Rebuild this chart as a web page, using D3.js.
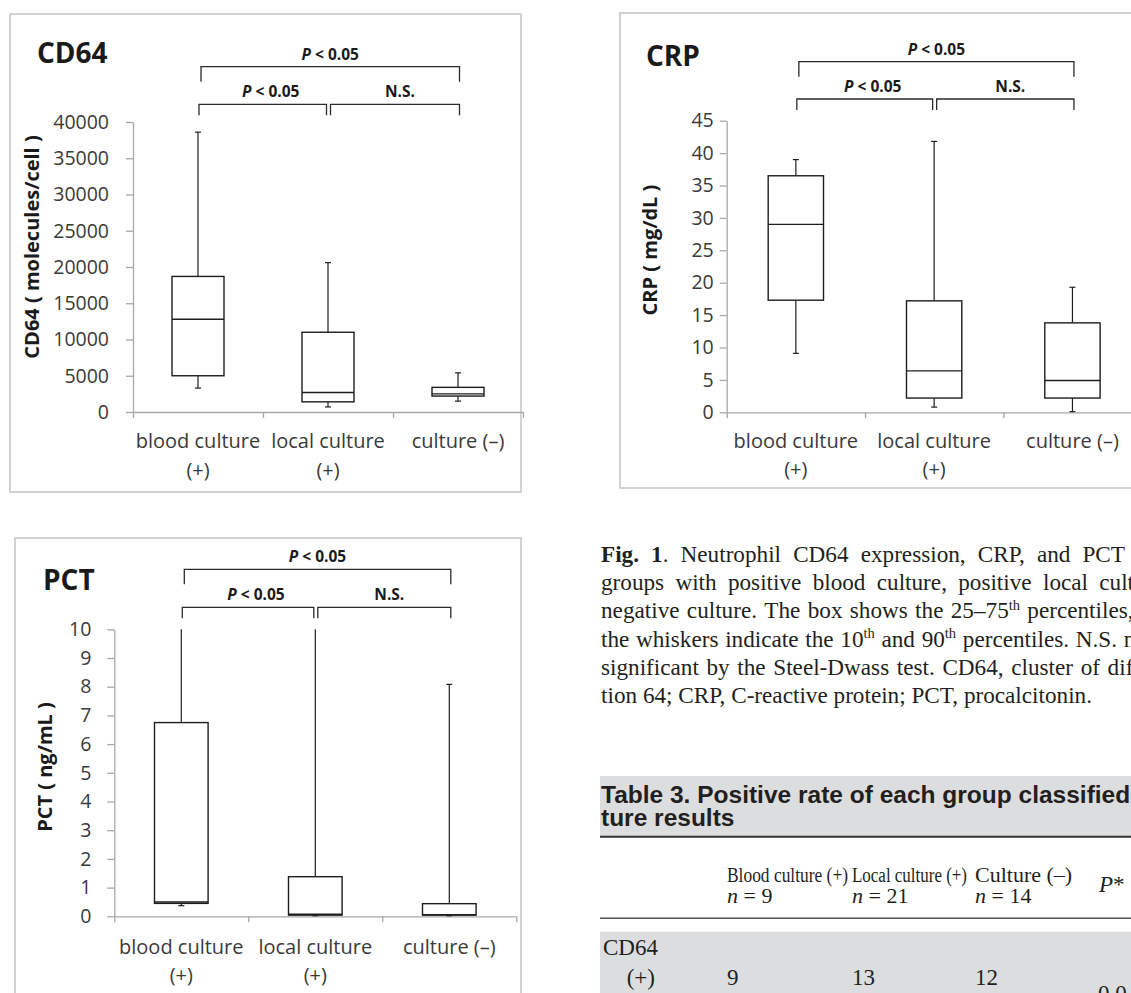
<!DOCTYPE html>
<html>
<head>
<meta charset="utf-8">
<script src="https://cdn.jsdelivr.net/npm/d3@7"></script>
<style>
  body { margin: 0; background: #fff; }
  svg { display: block; }
</style>
</head>
<body>
<svg id="page" width="1131" height="993"></svg>
<script>
// groups on the x axis
var groups = ["blood culture (+)", "local culture (+)", "culture (–)"];
var groupLines = [["blood culture", "(+)"], ["local culture", "(+)"], ["culture (–)"]];

// CD64 (molecules/cell): 10th, 25th, 50th, 75th, 90th percentiles
var cd64Ticks = [0, 5000, 10000, 15000, 20000, 25000, 30000, 35000, 40000];
var cd64P10 = [3300, 700, 1500];
var cd64Q1 = [5000, 1400, 2200];
var cd64Median = [12800, 2700, 2500];
var cd64Q3 = [18700, 11000, 3400];
var cd64P90 = [38600, 20600, 5400];

// CRP (mg/dL)
var crpTicks = [0, 5, 10, 15, 20, 25, 30, 35, 40, 45];
var crpP10 = [9.1, 0.8, 0.1];
var crpQ1 = [17.3, 2.2, 2.2];
var crpMedian = [29.0, 6.4, 4.9];
var crpQ3 = [36.5, 17.2, 13.8];
var crpP90 = [39.0, 41.8, 19.3];

// PCT (ng/mL), whiskers of the first two groups run off the top of the axis
var pctTicks = [0, 1, 2, 3, 4, 5, 6, 7, 8, 9, 10];
var pctP10 = [0.37, 0.02, 0.02];
var pctQ1 = [0.45, 0.04, 0.04];
var pctMedian = [0.5, 0.07, 0.06];
var pctQ3 = [6.75, 1.38, 0.44];
var pctP90 = [10, 10, 8.08];

// significance brackets (same in all three panels)
var compFrom = [0, 0, 1];
var compTo = [2, 1, 2];
var compLevel = [0, 1, 1];
var compLabel = ["P < 0.05", "P < 0.05", "N.S."];

// caption and table text
var captionLines = [
  "*Fig.* *1*. Neutrophil CD64 expression, CRP, and PCT in the",
  "groups with positive blood culture, positive local culture, and",
  "negative culture. The box shows the 25–75^th^ percentiles, and",
  "the whiskers indicate the 10^th^ and 90^th^ percentiles. N.S. not",
  "significant by the Steel-Dwass test. CD64, cluster of differentia-",
  "tion 64; CRP, C-reactive protein; PCT, procalcitonin."
];
var tableTitle = ["Table 3. Positive rate of each group classified by cul-", "ture results"];
var tableCols = ["Blood culture (+)", "Local culture (+)", "Culture (–)"];
var tableN = ["9", "21", "14"];
var cd64Positive = ["9", "13", "12"];
var cd64P = "0.0";

var svg = d3.select("#page");
var sans = "'Open Sans', 'Noto Sans', sans-serif";
var serif = "'Liberation Serif', 'Times New Roman', serif";

function boxPanel(cfg) {
  var g = svg.append("g");

  g.append("rect")
    .attr("x", cfg.frame[0]).attr("y", cfg.frame[1])
    .attr("width", cfg.frame[2]).attr("height", cfg.frame[3])
    .attr("fill", "none").attr("stroke", "#c4c4c4").attr("stroke-width", 1.5);

  var x = d3.scaleBand().domain(groups).range([cfg.x0, cfg.x0 + 3 * cfg.band]);
  var y = d3.scaleLinear().domain([0, cfg.max]).range([cfg.yBottom, cfg.yTop]);
  var cx = function(i) { return x(groups[i]) + x.bandwidth() / 2; };

  // y axis
  var ya = g.append("g")
    .attr("transform", "translate(" + cfg.x0 + ",0)")
    .call(d3.axisLeft(y).tickValues(cfg.ticks).tickFormat(d3.format("d"))
      .tickSize(7).tickSizeOuter(0).tickPadding(cfg.pad));
  ya.select(".domain").attr("stroke", "#a8a8a8").attr("stroke-width", 1.3);
  ya.selectAll(".tick line").attr("stroke", "#a8a8a8").attr("stroke-width", 1.3);
  ya.selectAll(".tick text")
    .attr("fill", "#3a3a3a")
    .style("font-family", sans).style("font-size", "19.5px");

  // x axis, ticks sit between the groups
  var xe = d3.scaleLinear().domain([0, 3]).range(x.range());
  var xa = g.append("g")
    .attr("transform", "translate(0," + cfg.yBottom + ")")
    .call(d3.axisBottom(xe).tickValues([0, 1, 2, 3]).tickSize(6).tickSizeOuter(0).tickFormat(""));
  xa.select(".domain").attr("stroke", "#a8a8a8").attr("stroke-width", 1.3);
  xa.selectAll(".tick line").attr("stroke", "#a8a8a8").attr("stroke-width", 1.3);

  // category labels
  groupLines.forEach(function(lines, i) {
    var t = g.append("text")
      .attr("text-anchor", "middle")
      .attr("fill", "#3a3a3a")
      .style("font-family", sans).style("font-size", "20px");
    lines.forEach(function(s, k) {
      t.append("tspan").attr("x", cx(i)).attr("y", cfg.catBase + k * cfg.catGap).text(s);
    });
  });

  // boxes
  var rows = groups.map(function(d, i) {
    return { i: i, p10: cfg.p10[i], q1: cfg.q1[i], med: cfg.med[i], q3: cfg.q3[i], p90: cfg.p90[i] };
  });
  var bw = x.bandwidth() * 0.4;
  var box = g.selectAll(".box").data(rows).enter().append("g").attr("class", "box");

  box.append("line")
    .attr("x1", function(d) { return cx(d.i); }).attr("x2", function(d) { return cx(d.i); })
    .attr("y1", function(d) { return y(d.p90); }).attr("y2", function(d) { return y(d.q3); })
    .attr("stroke", "#1e1e1e").attr("stroke-width", 1.2);
  box.append("line")
    .attr("x1", function(d) { return cx(d.i); }).attr("x2", function(d) { return cx(d.i); })
    .attr("y1", function(d) { return y(d.q1); }).attr("y2", function(d) { return y(d.p10); })
    .attr("stroke", "#1e1e1e").attr("stroke-width", 1.2);
  // caps (not when the whisker is cut by the axis top)
  box.filter(function(d) { return d.p90 < cfg.max; }).append("line")
    .attr("x1", function(d) { return cx(d.i) - 3; }).attr("x2", function(d) { return cx(d.i) + 3; })
    .attr("y1", function(d) { return y(d.p90); }).attr("y2", function(d) { return y(d.p90); })
    .attr("stroke", "#1e1e1e").attr("stroke-width", 1.2);
  box.append("line")
    .attr("x1", function(d) { return cx(d.i) - 3; }).attr("x2", function(d) { return cx(d.i) + 3; })
    .attr("y1", function(d) { return y(d.p10); }).attr("y2", function(d) { return y(d.p10); })
    .attr("stroke", "#1e1e1e").attr("stroke-width", 1.2);

  box.append("rect")
    .attr("x", function(d) { return cx(d.i) - bw / 2; })
    .attr("y", function(d) { return y(d.q3); })
    .attr("width", bw)
    .attr("height", function(d) { return y(d.q1) - y(d.q3); })
    .attr("fill", "#fff").attr("stroke", "#1e1e1e").attr("stroke-width", 1.4);
  box.append("line")
    .attr("x1", function(d) { return cx(d.i) - bw / 2; }).attr("x2", function(d) { return cx(d.i) + bw / 2; })
    .attr("y1", function(d) { return y(d.med); }).attr("y2", function(d) { return y(d.med); })
    .attr("stroke", "#1e1e1e").attr("stroke-width", 1.4);

  // brackets
  compFrom.forEach(function(f, k) {
    var t = compTo[k];
    var by = compLevel[k] === 0 ? cfg.bracketTop : cfg.bracketLow;
    var leg = compLevel[k] === 0 ? 15 : 11;
    var x1 = cx(f) + (compLevel[k] === 0 ? 3 : (f === 1 ? 2.5 : 1));
    var x2 = cx(t) + (t === 1 ? -1.5 : 1.5);
    g.append("path")
      .attr("d", "M" + x1 + "," + (by + leg) + "V" + by + "H" + x2 + "V" + (by + leg))
      .attr("fill", "none").attr("stroke", "#2a2a2a").attr("stroke-width", 1.3);
    var lab = g.append("text")
      .attr("x", (x1 + x2) / 2 + (compLevel[k] === 0 ? 0 : (compLabel[k] === "N.S." ? 5 : 8)))
      .attr("y", by - 7)
      .attr("text-anchor", "middle")
      .attr("fill", "#1a1a1a")
      .style("font-family", sans).style("font-weight", "bold").style("font-size", "15.5px");
    if (compLabel[k].charAt(0) === "P") {
      lab.append("tspan").style("font-style", "italic").text("P");
      lab.append("tspan").text(compLabel[k].slice(1));
    } else {
      lab.text(compLabel[k]);
    }
  });

  // panel title and y label
  g.append("text")
    .attr("x", cfg.title[1]).attr("y", cfg.title[2])
    .attr("fill", "#1a1a1a")
    .style("font-family", sans).style("font-weight", "bold").style("font-size", "28px")
    .text(cfg.title[0]);
  g.append("text")
    .attr("transform", "translate(" + cfg.ylab[1] + "," + cfg.ylab[2] + ") rotate(-90)")
    .attr("text-anchor", "middle")
    .attr("dy", "0.35em")
    .attr("fill", "#1a1a1a")
    .style("font-family", sans).style("font-weight", "bold").style("font-size", "20px")
    .text(cfg.ylab[0]);
}

boxPanel({
  frame: [10, 14, 511, 478],
  x0: 133, band: 130, yTop: 122, yBottom: 412, max: 40000, ticks: cd64Ticks, pad: 17,
  p10: cd64P10, q1: cd64Q1, med: cd64Median, q3: cd64Q3, p90: cd64P90,
  catBase: 448, catGap: 29,
  bracketTop: 66.7, bracketLow: 104.3,
  title: ["CD64", 37, 63],
  ylab: ["CD64 ( molecules/cell )", 32, 247]
});

boxPanel({
  frame: [620, 13, 600, 475],
  x0: 726.7, band: 138.3, yTop: 120.7, yBottom: 412.3, max: 45, ticks: crpTicks, pad: 6,
  p10: crpP10, q1: crpQ1, med: crpMedian, q3: crpQ3, p90: crpP90,
  catBase: 448, catGap: 28,
  bracketTop: 61.7, bracketLow: 99,
  title: ["CRP", 646, 66],
  ylab: ["CRP ( mg/dL )", 650, 250]
});

boxPanel({
  frame: [15, 538, 506, 500],
  x0: 114.3, band: 134, yTop: 629.3, yBottom: 916.3, max: 10, ticks: pctTicks, pad: 16,
  p10: pctP10, q1: pctQ1, med: pctMedian, q3: pctQ3, p90: pctP90,
  catBase: 954, catGap: 28,
  bracketTop: 569.3, bracketLow: 607.3,
  title: ["PCT", 43, 590],
  ylab: ["PCT ( ng/mL )", 45, 767]
});

// ---- caption (justified lines, right part cut off by the page edge) ----
// [word index, x where that word ends] used to set the word spacing
var captionAnchors = [[7, 1125], [6, 1088], [6, 1020], [8, 1117], [7, 1100], null];
var capSize = 23.2;

function parseWord(w) {
  var segs = [], bold = false, sup = false, cur = "";
  for (var c of w) {
    if (c === "*" || c === "^") {
      if (cur) segs.push({ t: cur, b: bold, s: sup });
      cur = "";
      if (c === "*") bold = !bold; else sup = !sup;
    } else cur += c;
  }
  if (cur) segs.push({ t: cur, b: bold, s: sup });
  return segs;
}

captionLines.forEach(function(line, li) {
  var base = 561.7 + li * 28.3;
  var words = line.split(" ");
  var nodes = words.map(function(w) {
    var t = svg.append("text")
      .attr("y", base)
      .attr("fill", "#231f20")
      .style("font-family", serif).style("font-size", capSize + "px");
    parseWord(w).forEach(function(s) {
      var sp = t.append("tspan").text(s.t);
      if (s.b) sp.style("font-weight", "bold");
      if (s.s) sp.style("font-size", "14.5px").attr("dy", -8.5);
    });
    return t;
  });
  var widths = nodes.map(function(t) { return t.node().getComputedTextLength(); });
  var space = capSize * 0.25, extra = 0;
  var a = captionAnchors[li];
  if (a) {
    var end = 601;
    for (var k = 0; k <= a[0]; k++) end += widths[k] + (k < a[0] ? space : 0);
    extra = (a[1] - end) / a[0];
  }
  var xx = 601;
  nodes.forEach(function(t, k) {
    t.attr("x", xx);
    xx += widths[k] + space + extra;
  });
});

// ---- table 3 (partly visible) ----
svg.append("rect").attr("x", 600).attr("y", 776).attr("width", 540).attr("height", 61).attr("fill", "#dcdddf");
svg.append("line").attr("x1", 600).attr("x2", 1131).attr("y1", 836.7).attr("y2", 836.7)
  .attr("stroke", "#333").attr("stroke-width", 2);
tableTitle.forEach(function(s, k) {
  svg.append("text").attr("x", 601).attr("y", 803 + k * 22.5)
    .attr("fill", "#231f20")
    .style("font-family", "'Liberation Sans', Arial, sans-serif").style("font-weight", "bold").style("font-size", "24.5px")
    .text(s);
});

var colX = [727, 852, 975];
var colCondensed = [121, 115, null];
tableCols.forEach(function(s, i) {
  var t = svg.append("text").attr("x", colX[i]).attr("y", 881.7)
    .attr("fill", "#231f20")
    .style("font-family", serif).style("font-size", i < 2 ? "20px" : "22px")
    .text(s);
  if (colCondensed[i]) t.attr("textLength", colCondensed[i]).attr("lengthAdjust", "spacingAndGlyphs");
  var n = svg.append("text").attr("x", colX[i]).attr("y", 903.3)
    .attr("fill", "#231f20")
    .style("font-family", serif).style("font-size", "22px");
  n.append("tspan").style("font-style", "italic").text("n");
  n.append("tspan").text(" = " + tableN[i]);
});
var pHead = svg.append("text").attr("x", 1099).attr("y", 892)
  .attr("fill", "#231f20").style("font-family", serif).style("font-size", "23px");
pHead.append("tspan").style("font-style", "italic").text("P");
pHead.append("tspan").text("*");

svg.append("line").attr("x1", 600).attr("x2", 1131).attr("y1", 918.3).attr("y2", 918.3)
  .attr("stroke", "#555").attr("stroke-width", 1.5);
svg.append("rect").attr("x", 600).attr("y", 931.7).attr("width", 540).attr("height", 70).attr("fill", "#dcdddf");

svg.append("text").attr("x", 603).attr("y", 955).attr("fill", "#231f20")
  .style("font-family", serif).style("font-size", "23px").text("CD64");
svg.append("text").attr("x", 626.7).attr("y", 985).attr("fill", "#231f20")
  .style("font-family", serif).style("font-size", "23px").text("(+)");
cd64Positive.forEach(function(s, i) {
  svg.append("text").attr("x", colX[i]).attr("y", 985).attr("fill", "#231f20")
    .style("font-family", serif).style("font-size", "23px").text(s);
});
svg.append("text").attr("x", 1098).attr("y", 1001).attr("fill", "#231f20")
  .style("font-family", serif).style("font-size", "23px").text(cd64P);
</script>
</body>
</html>
